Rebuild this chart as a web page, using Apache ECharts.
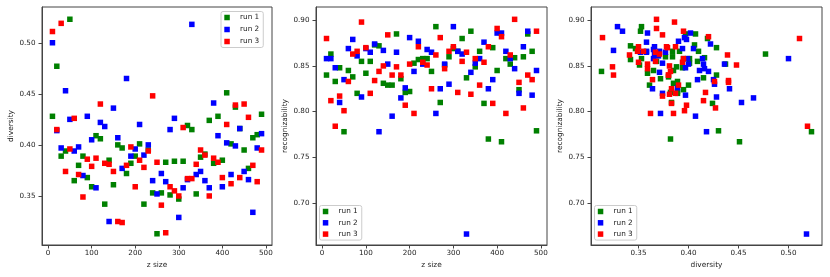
<!DOCTYPE html>
<html>
<head>
<meta charset="utf-8">
<script src="https://cdn.jsdelivr.net/npm/echarts@6/dist/echarts.min.js"></script>
<style>
html,body{margin:0;padding:0;background:#fff;}
#c{width:830px;height:277px;}
</style>
</head>
<body>
<div id="c"></div>
<script>
// z size values (x of panels 1 and 2)
const zSize = [10,20,30,40,50,60,70,80,90,100,110,120,130,140,150,160,170,180,190,200,
  210,220,230,240,250,260,270,280,290,300,310,320,330,340,350,360,370,380,390,400,
  410,420,430,440,450,460,470,480,490];

// run 1 (green)
const div1 = [0.428,0.477,0.389,0.394,0.523,0.365,0.380,0.389,0.368,0.359,
  0.409,0.406,0.342,0.385,0.361,0.400,0.397,0.372,0.382,0.389,
  0.401,0.342,0.395,0.353,0.313,0.353,0.383,0.351,0.384,0.347,
  0.384,0.419,0.415,0.352,0.388,0.391,0.424,0.382,0.428,0.385,
  0.451,0.401,0.437,0.416,0.395,0.377,0.407,0.410,0.430];
const rec1 = [0.840,0.863,0.833,0.848,0.778,0.845,0.838,0.820,0.855,0.842,
  0.855,0.873,0.872,0.831,0.829,0.829,0.885,0.836,0.821,0.822,
  0.853,0.857,0.858,0.858,0.844,0.893,0.810,0.851,0.860,0.869,
  0.866,0.880,0.837,0.888,0.849,0.866,0.809,0.770,0.870,0.845,
  0.767,0.858,0.852,0.859,0.824,0.860,0.885,0.866,0.779];

// run 2 (blue)
const div2 = [0.500,0.414,0.397,0.453,0.425,0.394,0.398,0.370,0.428,0.405,
  0.358,0.422,0.418,0.325,0.436,0.407,0.377,0.465,0.389,0.396,
  0.420,0.390,0.400,0.365,0.352,0.372,0.364,0.415,0.426,0.329,
  0.358,0.366,0.518,0.371,0.374,0.365,0.358,0.441,0.409,0.359,
  0.402,0.371,0.399,0.416,0.374,0.366,0.334,0.397,0.411];
const rec2 = [0.858,0.858,0.848,0.810,0.835,0.869,0.879,0.861,0.816,0.869,
  0.865,0.874,0.778,0.867,0.852,0.795,0.865,0.815,0.826,0.881,
  0.844,0.877,0.852,0.868,0.865,0.798,0.825,0.852,0.830,0.893,
  0.866,0.863,0.666,0.843,0.853,0.858,0.876,0.825,0.835,0.886,
  0.886,0.866,0.858,0.847,0.820,0.871,0.888,0.818,0.845];

// run 3 (red)
const div3 = [0.511,0.415,0.519,0.374,0.396,0.426,0.371,0.349,0.386,0.379,
  0.387,0.440,0.382,0.381,0.374,0.325,0.324,0.380,0.398,0.359,
  0.385,0.378,0.394,0.448,0.383,0.341,0.314,0.359,0.355,0.350,
  0.417,0.367,0.367,0.381,0.395,0.390,0.350,0.387,0.383,0.368,
  0.420,0.362,0.439,0.368,0.440,0.427,0.380,0.364,0.395];
const rec3 = [0.880,0.812,0.784,0.817,0.801,0.833,0.863,0.866,0.898,0.870,
  0.820,0.834,0.844,0.850,0.884,0.840,0.849,0.840,0.807,0.852,
  0.798,0.871,0.854,0.851,0.825,0.862,0.881,0.847,0.866,0.871,
  0.821,0.855,0.865,0.819,0.858,0.829,0.854,0.871,0.809,0.891,
  0.882,0.798,0.862,0.901,0.832,0.804,0.840,0.835,0.888];

const runNames = ['run 1','run 2','run 3'];
const runColors = ['#008000','#0000ff','#ff0000'];
const zTicks = [0,100,200,300,400,500];
const divTicks = [0.35,0.40,0.45,0.50];
const recTicks = [0.70,0.75,0.80,0.85,0.90];

const FONT = 'DejaVu Sans';
const TXT = '#222';
const LINE = '#444';

const grids = [
  {left:42, top:7, width:230, height:238},
  {left:316, top:7, width:231, height:238},
  {left:591, top:7, width:231, height:238}
].map(g => Object.assign({show:true, borderColor:LINE, borderWidth:1, backgroundColor:'transparent', containLabel:false}, g));

function axis(isX, gi, min, max, ticks, name, digits) {
  return {
    type:'value', gridIndex:gi, min:min, max:max,
    name:name, nameLocation:'middle', nameGap: isX ? 15 : 27,
    nameTextStyle:{fontFamily:FONT, fontSize:7.4, color:TXT},
    axisLine:{show:true, onZero:false, lineStyle:{color:LINE, width:1}},
    axisTick:{show:true, inside:false, length:3.5, customValues:ticks, lineStyle:{color:LINE, width:1}},
    axisLabel:{show:true, customValues:ticks, margin: isX ? 5 : 6.5, fontFamily:FONT, fontSize:7.2, color:TXT,
      formatter: v => Number(v).toFixed(digits)},
    splitLine:{show:false}
  };
}

const xAxes = [
  axis(true, 0, -14, 514, zTicks, 'z size', 0),
  axis(true, 1, -14, 514, zTicks, 'z size', 0),
  axis(true, 2, 0.3025, 0.5335, divTicks, 'diversity', 2)
];
const yAxes = [
  axis(false, 0, 0.302, 0.535, divTicks, 'diversity', 2),
  axis(false, 1, 0.654, 0.9145, recTicks, 'recognizability', 2),
  axis(false, 2, 0.654, 0.9145, recTicks, 'recognizability', 2)
];

const divs = [div1, div2, div3];
const recs = [rec1, rec2, rec3];
const series = [];
for (let p = 0; p < 3; p++) {
  for (let r = 0; r < 3; r++) {
    let data;
    if (p === 0) data = zSize.map((z, i) => [z, divs[r][i]]);
    else if (p === 1) data = zSize.map((z, i) => [z, recs[r][i]]);
    else data = divs[r].map((d, i) => [d, recs[r][i]]);
    series.push({
      type:'scatter', name:runNames[r], xAxisIndex:p, yAxisIndex:p,
      symbol:'rect', symbolSize:5.5, data:data,
      itemStyle:{color:runColors[r], opacity:1},
      emphasis:{disabled:true}, silent:true
    });
  }
}

function legend(left, top, gap) {
  return {
    data:runNames, orient:'vertical', left:left, top:top,
    padding:[1,4,1,3.3], itemWidth:16, itemHeight:5.5, itemGap:gap,
    icon:'path://M0 0h10v10h-10z', selectedMode:false,
    textStyle:{fontFamily:FONT, fontSize:7.3, lineHeight:10, color:TXT},
    borderColor:'#cccccc', borderWidth:1, borderRadius:2,
    backgroundColor:'rgba(255,255,255,0.8)'
  };
}

const chart = echarts.init(document.getElementById('c'), null, {renderer:'canvas'});
chart.setOption({
  animation:false,
  backgroundColor:'#ffffff',
  grid:grids,
  xAxis:xAxes,
  yAxis:yAxes,
  legend:[legend(221, 11.5, 2), legend(319.5, 205.5, 1.3), legend(594.5, 205.5, 1.3)],
  series:series
});
</script>
</body>
</html>
